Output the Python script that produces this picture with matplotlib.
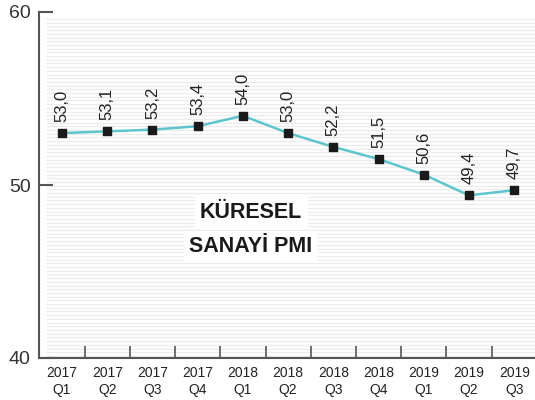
import matplotlib.pyplot as plt
import numpy as np

plt.rcParams['font.family'] = ['Liberation Sans', 'DejaVu Sans']

# data
quarters = ['2017\nQ1', '2017\nQ2', '2017\nQ3', '2017\nQ4', '2018\nQ1', '2018\nQ2',
            '2018\nQ3', '2018\nQ4', '2019\nQ1', '2019\nQ2', '2019\nQ3']
pmi = [53.0, 53.1, 53.2, 53.4, 54.0, 53.0, 52.2, 51.5, 50.6, 49.4, 49.7]
y_ticks = [40, 50, 60]

teal = '#5cc6cc'
axis_gray = '#555555'

fig = plt.figure(figsize=(5.35, 4.0), dpi=100)
ax = fig.add_axes([39 / 535, 42 / 400, 496 / 535, 346 / 400])

x = np.arange(len(quarters))
ax.set_xlim(-0.51, 10.46)
ax.set_ylim(40, 60)

# striped background
stripe_y = np.arange(40.12, 59.6, 0.214)
ax.hlines(stripe_y, -0.354, 10.46, color='#ebebeb', linewidth=0.9, zorder=0)

# line + markers
ax.plot(x, pmi, color=teal, linewidth=1.8, zorder=2)
ax.scatter(x, pmi, marker='s', s=40, color='#1a1a1a', zorder=3)

# value labels
for xi, v in zip(x, pmi):
    ax.annotate(f'{v:.1f}'.replace('.', ','), (xi, v), xytext=(0, 8),
                textcoords='offset points', rotation=90, ha='center', va='bottom',
                fontsize=12, color='#222222')

# title inside
for ty, txt in [(48.4, 'KÜRESEL'), (46.45, 'SANAYİ PMI')]:
    ax.text(4.18, ty, txt, ha='center', va='center', fontsize=15.5, fontweight='bold',
            color='#1a1a1a', zorder=4,
            bbox=dict(boxstyle='square,pad=0.25', facecolor='white', edgecolor='none'))

# axes styling
for s in ['top', 'right']:
    ax.spines[s].set_visible(False)
for s in ['left', 'bottom']:
    ax.spines[s].set_color(axis_gray)
    ax.spines[s].set_linewidth(1.5)

ax.set_yticks(y_ticks)
ax.set_yticklabels([str(t) for t in y_ticks], fontsize=14, color='#333333')
ax.tick_params(axis='y', direction='in', length=10, width=1.5, color=axis_gray, pad=6)

ax.set_xticks(x)
ax.set_xticklabels(quarters, fontsize=10, color='#222222', linespacing=1.2)
ax.tick_params(axis='x', length=0, pad=6)
ax.set_xticks(x[:-1] + 0.5, minor=True)
ax.tick_params(axis='x', which='minor', direction='in', length=9, width=1.2, color=axis_gray)

fig.savefig('out.png', dpi=100)
